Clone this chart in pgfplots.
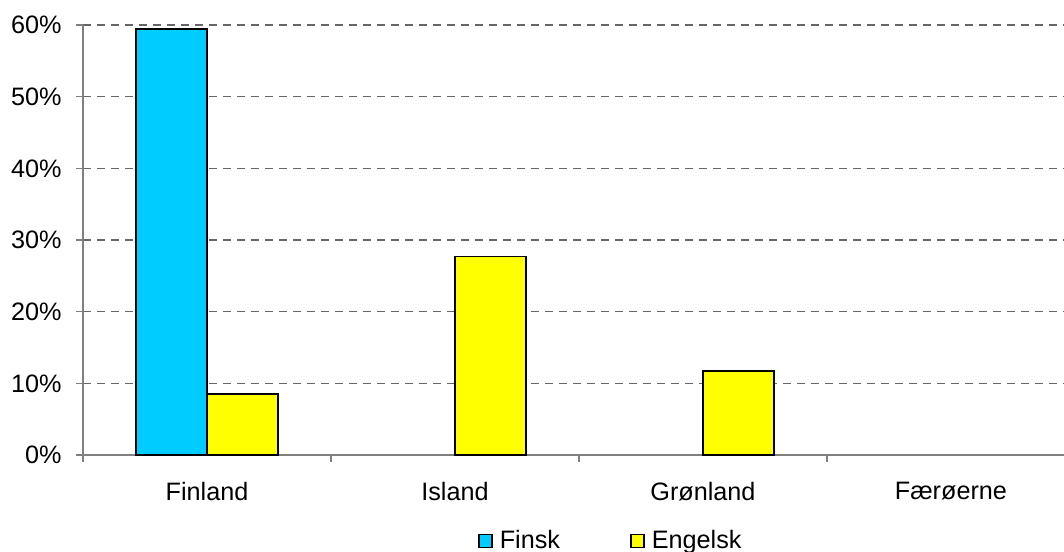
\documentclass[border=0pt]{standalone}
\usepackage{fontspec}
\setmainfont{Liberation Sans}
\usepackage{pgfplots}
\pgfplotsset{compat=1.18}
\definecolor{finsk}{HTML}{00CCFF}
\definecolor{engelsk}{HTML}{FFFF00}
\definecolor{axgray}{HTML}{808080}
\definecolor{gridgray}{HTML}{666666}
\begin{document}
\fontsize{12.6}{15}\selectfont
\begin{tikzpicture}
\begin{axis}[
  scale only axis,
  width=490.5pt, height=215pt,
  xmin=-0.5, xmax=3.456,
  ymin=0, ymax=60,
  axis lines*=left,
  axis line style={axgray, line width=0.6pt},
  every tick/.style={axgray, line width=0.6pt},
  tick align=outside,
  major tick length=3.5pt,
  minor tick length=3.5pt,
  xtick={0,1,2,3},
  xticklabels={Finland,Island,Grønland,Færøerne},
  x tick style={draw=none},
  minor xtick={-0.5,0.5,1.5,2.5},
  minor x tick style={axgray, line width=0.6pt, draw=axgray},
  ytick={0,10,20,30,40,50,60},
  yticklabel={\pgfmathprintnumber{\tick}\%},
  /pgf/number format/assume math mode=true,
  ymajorgrids,
  major grid style={gridgray, line width=0.6pt, dash pattern=on 4pt off 3pt},
  yticklabel style={inner sep=0pt, font=\fontsize{12.6}{15}\selectfont},
  yticklabel shift=7pt,
  xticklabel style={inner sep=0pt, font=\fontsize{12.6}{15}\selectfont},
  xticklabel shift=10pt,
  ybar=0pt,
  bar width=35.5pt,
  legend style={draw=none, legend columns=2, at={(axis description cs:0.539,-0.2)}, anchor=center,
    font=\fontsize{12.6}{15}\selectfont,
    /tikz/every even column/.append style={column sep=33pt}},
  legend image code/.code={\draw[#1, draw=black, line width=0.8pt] (0pt,-3.25pt) rectangle (6.5pt,3.25pt); \path[draw=none, fill=none] (0pt,0pt) -- (8.5pt,0pt);},
]
\addplot[fill=finsk, draw=black, line width=0.9pt] coordinates {(0,59.4)};
\addplot[fill=engelsk, draw=black, line width=0.9pt] coordinates {(0,8.5) (1,27.7) (2,11.7)};
\legend{Finsk,Engelsk}
\end{axis}
\pgfresetboundingbox
\path[use as bounding box] (-41.5pt,-48pt) rectangle (490.5pt,227.5pt);
\end{tikzpicture}
\end{document}
